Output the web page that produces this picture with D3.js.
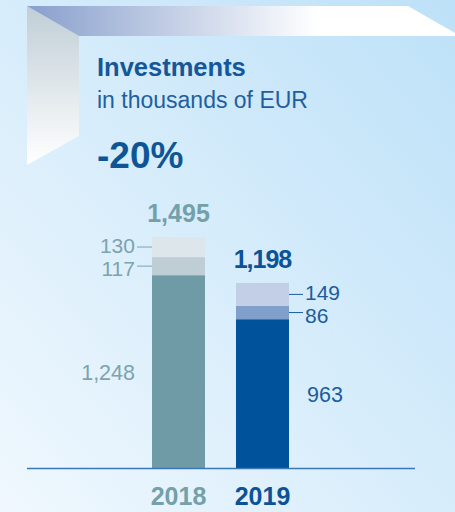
<!DOCTYPE html>
<html><head><meta charset="utf-8">
<script src="https://cdn.jsdelivr.net/npm/d3@7"></script>
<style>html,body{margin:0;padding:0;overflow:hidden;}svg{display:block;}</style>
</head><body>
<script>
const years = ["2018", "2019"];
const seriesBottom = [1248, 963];
const seriesMiddle = [117, 86];
const seriesTop = [130, 149];
const totals = [1495, 1198];
const totalLabels = ["1,495", "1,198"];
const segmentLabels = [["1,248", "117", "130"], ["963", "86", "149"]];
const title = "Investments";
const subtitle = "in thousands of EUR";
const change = "-20%";

const W = 455, H = 512;
const font = "'Liberation Sans', Arial, sans-serif";
const svg = d3.select("body").append("svg").attr("width", W).attr("height", H);
const defs = svg.append("defs");

const bg = defs.append("linearGradient").attr("id", "bg").attr("x1", "0").attr("y1", "1").attr("x2", "1").attr("y2", "0");
bg.append("stop").attr("offset", "0").attr("stop-color", "#f0f8fe");
bg.append("stop").attr("offset", "1").attr("stop-color", "#bde1f8");
svg.append("rect").attr("width", W).attr("height", H).attr("fill", "url(#bg)");

const topG = defs.append("linearGradient").attr("id", "topband").attr("x1", "0").attr("y1", "0").attr("x2", "1").attr("y2", "0");
topG.append("stop").attr("offset", "0").attr("stop-color", "#889fcc");
topG.append("stop").attr("offset", "0.68").attr("stop-color", "#ffffff");
topG.append("stop").attr("offset", "1").attr("stop-color", "#ffffff");
const leftG = defs.append("linearGradient").attr("id", "leftband").attr("x1", "0").attr("y1", "0").attr("x2", "0").attr("y2", "1");
leftG.append("stop").attr("offset", "0").attr("stop-color", "#c0ced6");
leftG.append("stop").attr("offset", "1").attr("stop-color", "#ffffff");

svg.append("path").attr("d", "M27,6 L79,36 L79,136 L27,165 Z").attr("fill", "url(#leftband)");
svg.append("path").attr("d", "M27,6 L408,6 L455,33 L455,36 L79,36 Z").attr("fill", "url(#topband)");

svg.append("text").attr("x", 97).attr("y", 76).attr("font-family", font).attr("font-weight", "bold")
  .attr("font-size", 25.5).attr("fill", "#14579a").text(title);
svg.append("text").attr("x", 97).attr("y", 108).attr("font-family", font)
  .attr("font-size", 23).attr("fill", "#1f5f9f").text(subtitle);
svg.append("text").attr("x", 97).attr("y", 168).attr("font-family", font).attr("font-weight", "bold")
  .attr("font-size", 37).attr("fill", "#0e5596").text(change);

const baseY = 468;
const y = d3.scaleLinear().domain([0, 1495]).range([baseY, 237]);
const x = d3.scaleBand().domain(years).range([110, 331]).paddingInner(0.369).paddingOuter(0.5);

const colors = [["#6f9ba6", "#bfced4", "#dde6ea"], ["#00539a", "#809fcb", "#c3cfe6"]];
const textColors = ["#7ea3ad", "#1d5c9c"];
const totalColors = ["#74a0aa", "#0b5396"];

const stackData = years.map((yr, i) => ({year: yr, bottom: seriesBottom[i], middle: seriesMiddle[i], top: seriesTop[i]}));
const stack = d3.stack().keys(["bottom", "middle", "top"])(stackData);

stack.forEach((layer, li) => {
  svg.append("g").selectAll("rect").data(layer).join("rect")
    .attr("x", d => x(d.data.year))
    .attr("width", x.bandwidth())
    .attr("y", d => y(d[1]))
    .attr("height", d => y(d[0]) - y(d[1]))
    .attr("fill", (d, i) => colors[i][li]);
});

// axis line
svg.append("line").attr("x1", 27).attr("x2", 415).attr("y1", baseY + 0.5).attr("y2", baseY + 0.5)
  .attr("stroke", "#3a78b5").attr("stroke-width", 1.6);

// totals
years.forEach((yr, i) => {
  const cx = x(yr) + x.bandwidth() / 2;
  svg.append("text").attr("x", cx).attr("y", y(totals[i]) - 15).attr("text-anchor", "middle")
    .attr("font-family", font).attr("font-weight", "bold").attr("font-size", 25)
    .attr("letter-spacing", i === 1 ? -1 : 0)
    .attr("fill", totalColors[i]).text(totalLabels[i]);
  svg.append("text").attr("x", cx).attr("y", 505).attr("text-anchor", "middle")
    .attr("font-family", font).attr("font-weight", "bold").attr("font-size", 25)
    .attr("fill", totalColors[i]).text(yr);
});

// segment labels
const baselineShift = [8, 10, 5.5];
stack.forEach((layer, li) => {
  layer.forEach((d, i) => {
    const mid = (y(d[0]) + y(d[1])) / 2;
    const left = i === 0;
    const bx = left ? x(d.data.year) : x(d.data.year) + x.bandwidth();
    if (li === 0) {
      svg.append("text").attr("x", left ? bx - 17 : bx + 18).attr("y", mid + baselineShift[li])
        .attr("text-anchor", left ? "end" : "start")
        .attr("font-family", font).attr("font-size", 21.5).attr("fill", textColors[i])
        .text(segmentLabels[i][li]);
    } else {
      const tx = left ? bx - 15 : bx + 14;
      svg.append("line").attr("x1", bx).attr("x2", tx).attr("y1", mid).attr("y2", mid)
        .attr("stroke", textColors[i]).attr("stroke-width", 1);
      svg.append("text").attr("x", left ? tx - 2 : tx + 2).attr("y", mid + baselineShift[li])
        .attr("text-anchor", left ? "end" : "start")
        .attr("font-family", font).attr("font-size", 21).attr("fill", textColors[i])
        .text(segmentLabels[i][li]);
    }
  });
});
</script>
</body></html>
